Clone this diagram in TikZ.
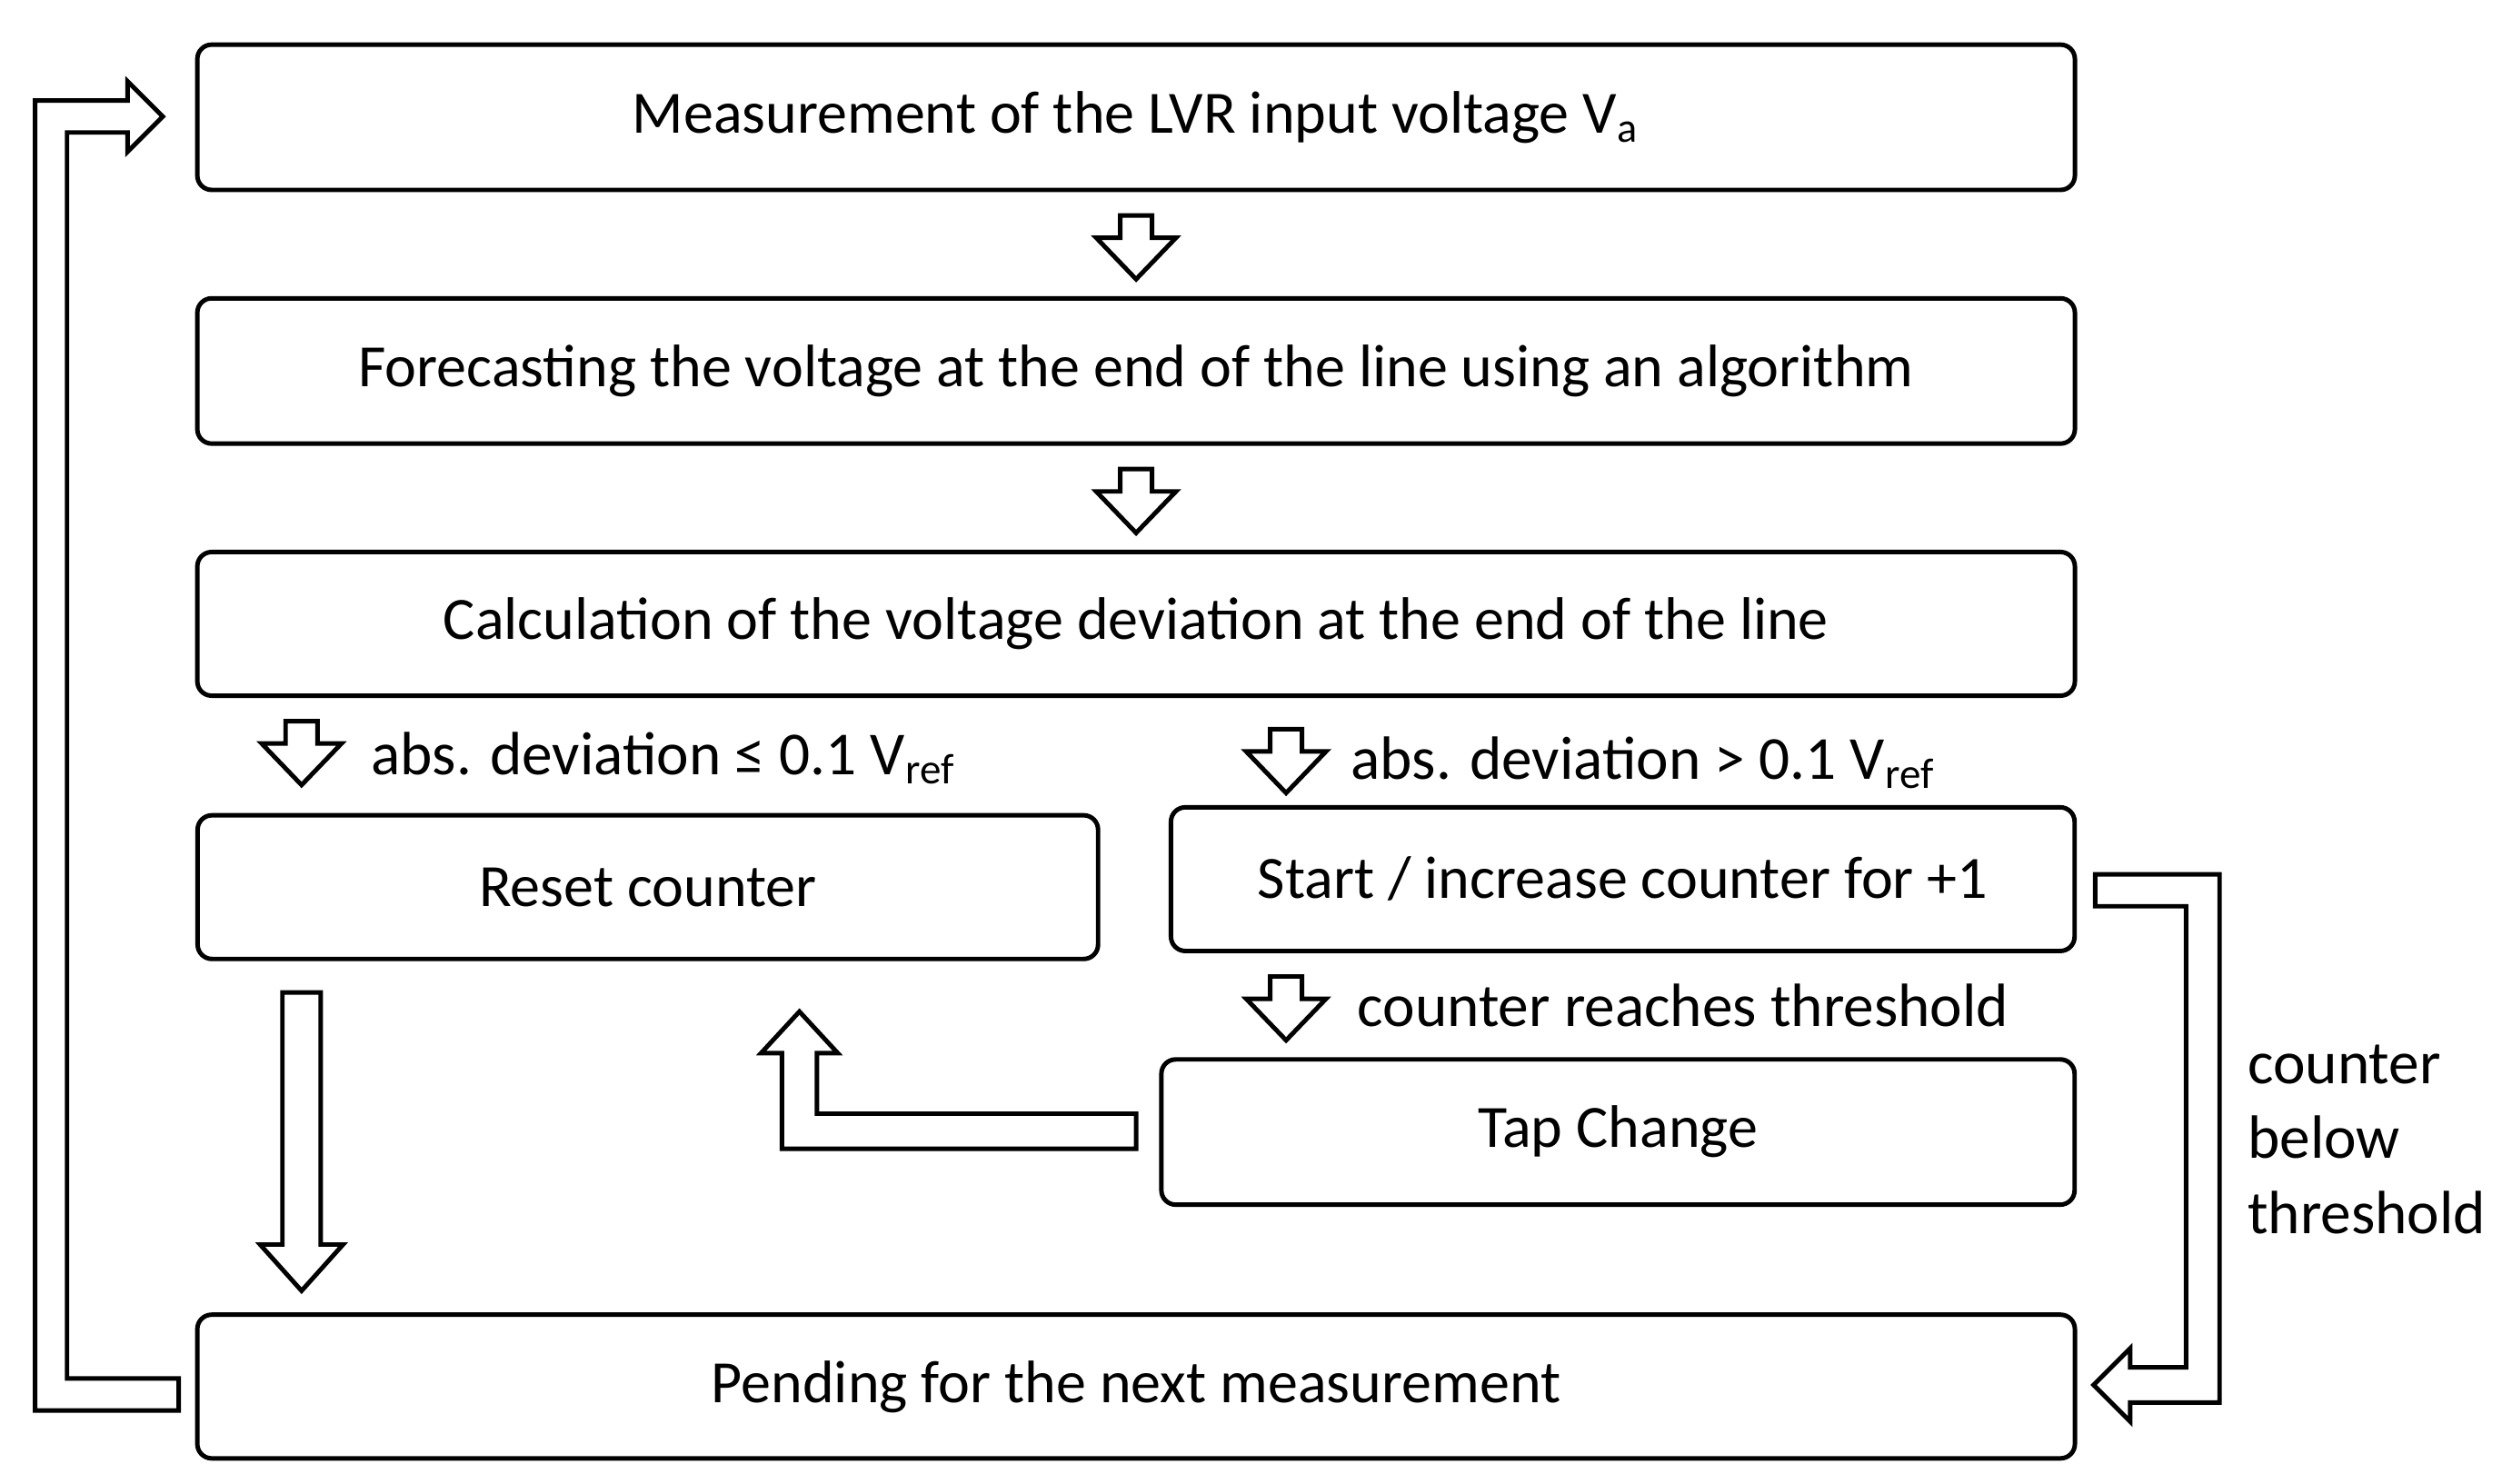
\documentclass[tikz,border=0pt]{standalone}
\usepackage{fontspec}
\setmainfont{Carlito}
\begin{document}
\begin{tikzpicture}[x=0.01cm,y=-0.01cm,
 box/.style={draw,line width=0.8pt,rounded corners=0.09cm,inner sep=0pt},
 ar/.style={draw,line width=0.8pt,fill=white,line join=miter},
 lab/.style={font=\fontsize{10.9}{13.4}\selectfont,inner sep=0pt}]
\useasboundingbox (0,0) rectangle (1568,930);
\tikzset{every node/.style={font=\fontsize{10.7}{13}\selectfont}}
\node[box,minimum width=11.76cm,minimum height=0.91cm] (m) at (712,73.5) {Measurement of the LVR input voltage V\textsubscript{a}};
\node[box,minimum width=11.76cm,minimum height=0.91cm] (f) at (712,232.5) {Forecasting the voltage at the end of the line using an algorithm};
\node[box,minimum width=11.76cm,minimum height=0.90cm] (c) at (712,391) {Calculation of the voltage deviation at the end of the line};
\node[box,minimum width=5.64cm,minimum height=0.90cm] (r) at (406,556) {Reset counter};
\node[box,minimum width=5.66cm,minimum height=0.90cm] (s) at (1017,551) {Start / increase counter for +1};
\node[box,minimum width=5.72cm,minimum height=0.91cm] (t) at (1014,709.5) {Tap Change};
\node[box,minimum width=11.76cm,minimum height=0.90cm] (p) at (712,869) {Pending for the next measurement};
\foreach \cx/\ty in {712/135,712/294,189/452,806/457,806/612}{
 \path[ar] (\cx-10,\ty) -- (\cx+10,\ty) -- (\cx+10,\ty+14) -- (\cx+25,\ty+14) -- (\cx,\ty+40) -- (\cx-25,\ty+14) -- (\cx-10,\ty+14) -- cycle;}
\node[lab,anchor=west] (l1) at (232,475) {abs. deviation ≤ 0.1 V\textsubscript{ref}};
\node[lab,anchor=west] (l2) at (846,478) {abs. deviation > 0.1 V\textsubscript{ref}};
\node[lab,anchor=west] (l3) at (850,630) {counter reaches threshold};
\node[lab,anchor=north west,align=left] (l4) at (1408,654) {counter\\below\\threshold};
\path[ar] (177,622) -- (201,622) -- (201,780) -- (215,780) -- (189,809) -- (163,780) -- (177,780) -- cycle;
\path[ar] (712,698) -- (512,698) -- (512,660) -- (525,660) -- (501,634) -- (477,660) -- (490,660) -- (490,720) -- (712,720) -- cycle;
\path[ar] (112,864) -- (42,864) -- (42,83) -- (80,83) -- (80,95) -- (102,73) -- (80,51) -- (80,63) -- (22,63) -- (22,884) -- (112,884) -- cycle;
\path[ar] (1313,548) -- (1391,548) -- (1391,879) -- (1335,879) -- (1335,891) -- (1312,868) -- (1335,845) -- (1335,857) -- (1370,857) -- (1370,568) -- (1313,568) -- cycle;
\end{tikzpicture}
\end{document}
